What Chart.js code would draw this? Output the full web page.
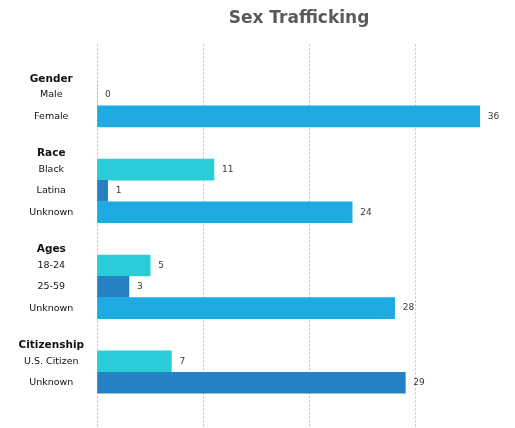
<!DOCTYPE html>
<html>
<head>
<meta charset="utf-8">
<script src="https://cdn.jsdelivr.net/npm/chart.js@4"></script>
<style>
  html, body { margin: 0; padding: 0; background: #ffffff; }
  #wrap { width: 515px; height: 428px; position: relative; }
</style>
</head>
<body>
<div id="wrap"><canvas id="c"></canvas></div>
<script>
// ---- Data ----
const groups = ['Gender', 'Race', 'Ages', 'Citizenship'];
const genderLabels = ['Male', 'Female'];
const genderValues = [0, 36];
const raceLabels = ['Black', 'Latina', 'Unknown'];
const raceValues = [11, 1, 24];
const agesLabels = ['18-24', '25-59', 'Unknown'];
const agesValues = [5, 3, 28];
const citizenshipLabels = ['U.S. Citizen', 'Unknown'];
const citizenshipValues = [7, 29];
const xTickValues = [0, 10, 20, 30];

// colours per item position
const TEAL = '#29CDD8', DARK = '#2581C4', LIGHT = '#1EAAE2';
const groupColors = [
  [TEAL, LIGHT],
  [TEAL, DARK, LIGHT],
  [TEAL, DARK, LIGHT],
  [TEAL, DARK]
];
const groupItems = [genderLabels, raceLabels, agesLabels, citizenshipLabels];
const groupVals = [genderValues, raceValues, agesValues, citizenshipValues];

// ---- build fine-grained category rows (spacers keep the original spacing) ----
const labels = [], values = [], colors = [], headerIdx = new Set();
function spacer(n) { for (let i = 0; i < n; i++) { labels.push(''); values.push(null); colors.push('rgba(0,0,0,0)'); } }
spacer(6);
groups.forEach((g, gi) => {
  headerIdx.add(labels.length);
  labels.push(g); values.push(null); colors.push('rgba(0,0,0,0)');
  spacer(2);
  groupItems[gi].forEach((lab, i) => {
    labels.push(lab); values.push(groupVals[gi][i]); colors.push(groupColors[gi][i]);
    if (i < groupItems[gi].length - 1) spacer(3);
  });
  if (gi < groups.length - 1) spacer(6);
});
spacer(8);

const valueLabels = {
  id: 'valueLabels',
  afterDatasetsDraw(chart) {
    const ctx = chart.ctx;
    const meta = chart.getDatasetMeta(0);
    ctx.save();
    ctx.font = '9px "DejaVu Sans"';
    ctx.fillStyle = '#3a3a3a';
    ctx.textAlign = 'left';
    ctx.textBaseline = 'middle';
    meta.data.forEach((el, i) => {
      const v = chart.data.datasets[0].data[i];
      if (v === null || v === undefined) return;
      ctx.fillText(String(v), el.x + 8, el.y);
    });
    ctx.restore();
  }
};

new Chart(document.getElementById('c'), {
  type: 'bar',
  data: {
    labels: labels,
    datasets: [{
      data: values,
      backgroundColor: colors,
      barThickness: 21,
      borderWidth: 0
    }]
  },
  options: {
    indexAxis: 'y',
    responsive: true,
    maintainAspectRatio: false,
    animation: false,
    layout: { autoPadding: false, padding: { left: 0, right: 14, top: 0, bottom: 0 } },
    plugins: {
      legend: { display: false },
      tooltip: { enabled: false },
      title: {
        display: true,
        text: 'Sex Trafficking',
        fullSize: false,
        color: '#5a5a5a',
        font: { family: 'DejaVu Sans', size: 17, weight: 'bold' },
        padding: { top: 8, bottom: 16 }
      }
    },
    scales: {
      x: {
        type: 'linear',
        min: 0,
        max: 38,
        ticks: { display: false, stepSize: 10 },
        afterBuildTicks: (s) => { s.ticks = xTickValues.map(v => ({ value: v })); },
        afterFit: (s) => { s.height = 0; },
        border: { display: false, dash: [2, 2] },
        grid: { color: '#bdbdbd', lineWidth: 1, drawTicks: false }
      },
      y: {
        type: 'category',
        offset: true,
        border: { display: false },
        grid: { display: false },
        afterFit: (s) => { s.width = 97; s.paddingTop = 0; s.paddingBottom = 0; },
        ticks: {
          autoSkip: false,
          crossAlign: 'center',
          padding: 5,
          color: '#111111',
          font: (ctx) => headerIdx.has(ctx.index)
            ? { family: 'DejaVu Sans', size: 10.5, weight: 'bold' }
            : { family: 'DejaVu Sans', size: 9.5 }
        }
      }
    }
  },
  plugins: [valueLabels]
});
</script>
</body>
</html>
